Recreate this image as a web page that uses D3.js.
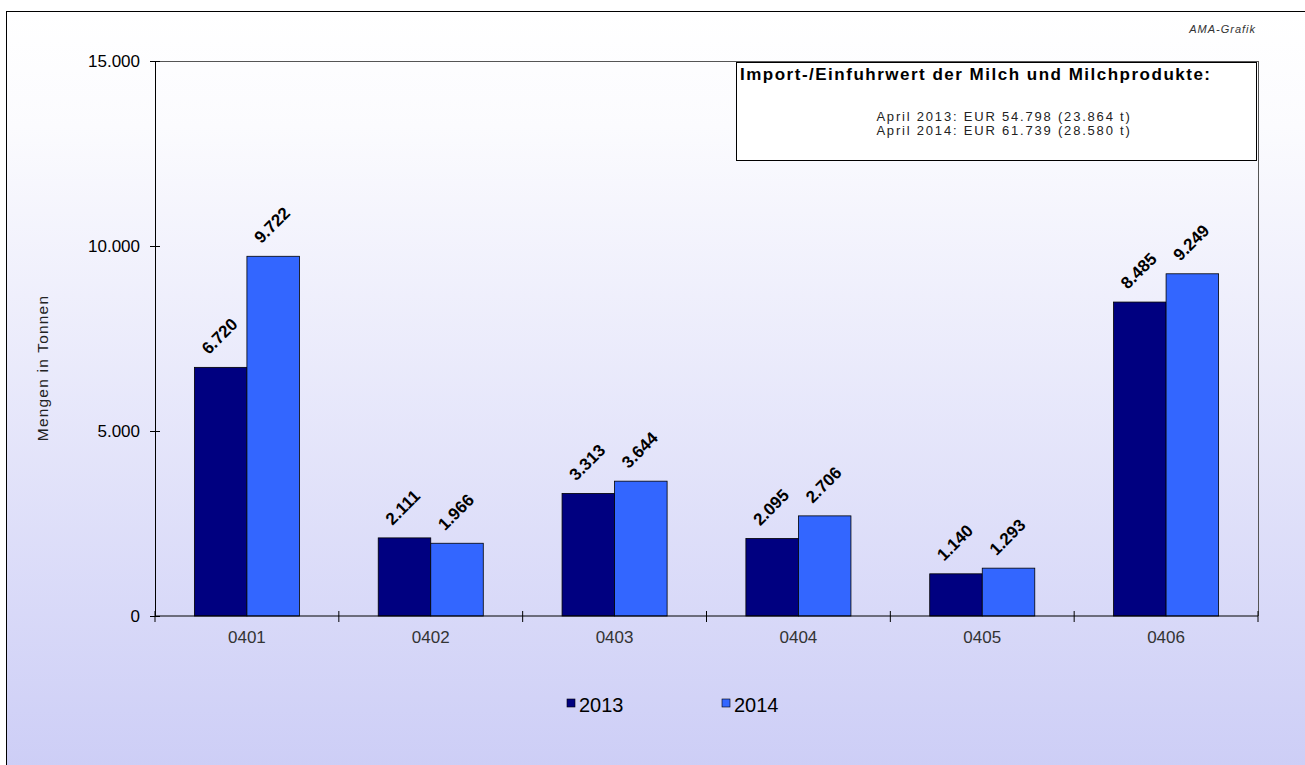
<!DOCTYPE html>
<html><head><meta charset="utf-8">
<script src="https://cdn.jsdelivr.net/npm/d3@7"></script>
<style>body{margin:0;background:#fff}svg{display:block;font-family:"Liberation Sans",Arial,sans-serif}</style>
</head><body>
<svg id="c" width="1305" height="765"></svg>
<script>
const categories = ["0401","0402","0403","0404","0405","0406"];
const series = ["2013","2014"];
const values2013 = [6720,2111,3313,2095,1140,8485];
const values2014 = [9722,1966,3644,2706,1293,9249];
const yTicks = [0,5000,10000,15000];
const colors = ["#000080","#3366ff"];
const boxTitle = "Import-/Einfuhrwert der Milch und Milchprodukte:";
const boxLines = ["April 2013: EUR 54.798 (23.864 t)","April 2014: EUR 61.739 (28.580 t)"];

const svg = d3.select("#c");
const defs = svg.append("defs");
const g1 = defs.append("linearGradient").attr("id","bg").attr("x1",0).attr("y1",0).attr("x2",0).attr("y2",1);
g1.append("stop").attr("offset","0%").attr("stop-color","#ffffff");
g1.append("stop").attr("offset","15%").attr("stop-color","#fbfbfe");
g1.append("stop").attr("offset","100%").attr("stop-color","#cccdf6");

svg.append("rect").attr("x",6.5).attr("y",11.5).attr("width",1310).attr("height",770)
  .attr("fill","url(#bg)").attr("stroke","#000").attr("stroke-width",1);

const L=155, R=1258, T=61, B=616;
const x = d3.scaleBand().domain(categories).range([L,R]);
const xs = d3.scaleBand().domain(series).range([0,x.bandwidth()]).paddingOuter(0.75).paddingInner(0);
const y = d3.scaleLinear().domain([0,15000]).range([B,T]);
const fmt = v => d3.format(",")(v).replace(/,/g,".");

// plot border
svg.append("line").attr("x1",L).attr("x2",R).attr("y1",T+0.5).attr("y2",T+0.5).attr("stroke","#555");
svg.append("line").attr("x1",R+0.5).attr("x2",R+0.5).attr("y1",T).attr("y2",B).attr("stroke","#555");

// bars
const data = categories.map((c,i)=>({c, vals:[values2013[i],values2014[i]]}));
const grp = svg.append("g");
data.forEach(d=>{
  d.vals.forEach((v,j)=>{
    const bx = x(d.c)+xs(series[j]);
    grp.append("rect").attr("x",bx).attr("y",y(v)).attr("width",xs.bandwidth()).attr("height",B-y(v))
      .attr("fill",colors[j]).attr("stroke","#000").attr("stroke-width",0.8);
    const cx = bx+xs.bandwidth()/2;
    grp.append("text").attr("transform",`translate(${cx-12},${y(v)-12}) rotate(-45)`)
      .attr("font-size",17).attr("font-weight","bold").attr("fill","#000").text(fmt(v));
  });
});

// axes
const yAxis = d3.axisLeft(y).tickValues(yTicks).tickFormat(fmt).tickSizeInner(5).tickSizeOuter(0);
const ya = svg.append("g").attr("transform",`translate(${L},0)`).call(yAxis);
ya.select(".domain").attr("stroke","#000");
ya.selectAll(".tick line").attr("x1",5).attr("x2",-5);
ya.selectAll(".tick text").attr("font-size",17).attr("fill","#000").attr("x",-15).attr("font-family","Liberation Sans, Arial");

const xa = svg.append("g").attr("transform",`translate(0,${B})`);
xa.append("line").attr("x1",L).attr("x2",R).attr("stroke","#000");
const bounds = d3.range(categories.length+1).map(i=>L+i*x.step());
xa.selectAll(".bt").data(bounds).join("line").attr("x1",d=>d).attr("x2",d=>d).attr("y1",-5).attr("y2",6).attr("stroke","#000");
xa.selectAll(".cl").data(categories).join("text").attr("x",d=>x(d)+x.bandwidth()/2).attr("y",27)
  .attr("text-anchor","middle").attr("font-size",17).attr("fill","#333").text(d=>d);

// y label
svg.append("text").attr("transform",`translate(48,368) rotate(-90)`).attr("text-anchor","middle")
  .attr("font-size",15.5).attr("letter-spacing",1.2).attr("fill","#222").text("Mengen in Tonnen");

// AMA-Grafik
svg.append("text").attr("x",1256).attr("y",33).attr("text-anchor","end").attr("font-size",11).attr("letter-spacing",1)
  .attr("font-style","italic").attr("fill","#333").text("AMA-Grafik");

// box
svg.append("rect").attr("x",736.5).attr("y",62.5).attr("width",520).attr("height",98).attr("fill","#fff").attr("stroke","#000");
svg.append("text").attr("x",740).attr("y",80).attr("font-size",17).attr("letter-spacing",1.5).attr("font-weight","bold").attr("fill","#000").text(boxTitle);
boxLines.forEach((t,i)=>svg.append("text").attr("x",1004).attr("y",121+i*14).attr("text-anchor","middle")
  .attr("font-size",13).attr("letter-spacing",1.8).attr("fill","#222").text(t));

// legend
const lg = svg.append("g");
[[567,"2013"],[722,"2014"]].forEach(([lx,t],j)=>{
  lg.append("rect").attr("x",lx).attr("y",699).attr("width",8).attr("height",8).attr("fill",colors[j]).attr("stroke","#000").attr("stroke-width",0.6);
  lg.append("text").attr("x",lx+12).attr("y",712).attr("font-size",20).attr("fill","#000").text(t);
});
</script>
</body></html>
